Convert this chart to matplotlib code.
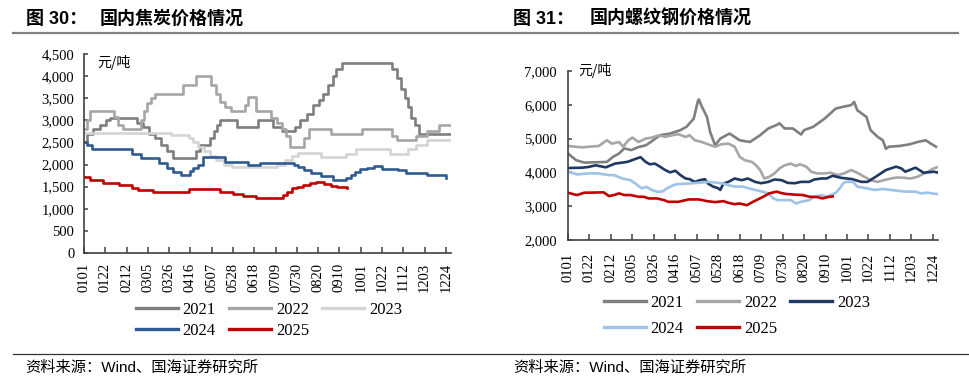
import matplotlib
matplotlib.use("Agg")
import matplotlib.pyplot as plt
from matplotlib.lines import Line2D

plt.rcParams['font.family'] = ['Liberation Serif', 'Noto Sans CJK SC']
plt.rcParams['axes.unicode_minus'] = False

# x axis: day of year (0 = 0101), labels every 21 days
tick_days = list(range(0, 358, 21))
tick_labels = ['0101', '0122', '0212', '0305', '0326', '0416', '0507', '0528', '0618',
               '0709', '0730', '0820', '0910', '1001', '1022', '1112', '1203', '1224']
years = ['2021', '2022', '2023', '2024', '2025']

# ---- coke price (step changes: day, price) ----
coke21_d = [0, 3, 9, 16, 22, 26, 52, 58, 64, 70, 76, 82, 88, 110, 114, 124, 128, 131, 134, 151,
            172, 186, 195, 208, 213, 220, 226, 232, 236, 241, 246, 249, 254, 304, 309, 313, 317, 320, 323, 326,
            330, 361]
coke21_v = [2500, 2700, 2800, 2900, 3000, 3050, 2950, 2850, 2700, 2600, 2450, 2300, 2150, 2300, 2450, 2600, 2750, 2900, 3000, 2850,
            3000, 2850, 2750, 2850, 3000, 3150, 3350, 3450, 3600, 3800, 4000, 4150, 4300, 4150, 3950, 3700, 3500, 3300, 3050, 2900,
            2700, 2700]
coke22_d = [0, 3, 6, 30, 34, 38, 56, 59, 62, 66, 70, 98, 110, 125, 130, 134, 139, 145, 159, 162,
            170, 184, 190, 195, 199, 203, 217, 222, 244, 274, 304, 309, 327, 338, 350, 361]
coke22_v = [2800, 3000, 3200, 3080, 2900, 2800, 3000, 3200, 3400, 3500, 3600, 3800, 4000, 3800, 3600, 3420, 3300, 3200, 3350, 3530,
            3200, 3050, 2950, 2800, 2650, 2400, 2600, 2800, 2700, 2800, 2650, 2550, 2650, 2750, 2900, 2900]
coke23_d = [0, 86, 104, 108, 112, 118, 124, 130, 138, 146, 190, 198, 205, 211, 234, 258, 268, 302, 320, 327, 338, 361]
coke23_v = [2720, 2670, 2600, 2500, 2400, 2300, 2200, 2100, 2000, 1950, 2000, 2100, 2200, 2260, 2170, 2250, 2350, 2250, 2350, 2450, 2550, 2550]
coke24_d = [0, 3, 8, 47, 56, 74, 82, 88, 96, 105, 108, 112, 117, 139, 162, 174, 207, 211, 217, 224,
            234, 246, 258, 263, 267, 272, 279, 286, 294, 310, 318, 338, 357]
coke24_v = [2520, 2440, 2360, 2250, 2140, 2030, 1920, 1840, 1760, 1850, 1920, 1990, 2160, 2060, 1990, 2030, 1990, 1940, 1880, 1800,
            1730, 1650, 1690, 1760, 1840, 1910, 1930, 1970, 1910, 1870, 1820, 1760, 1700]
coke25_d = [0, 6, 19, 35, 47, 53, 68, 104, 134, 147, 157, 170, 196, 200, 205, 210, 216, 223, 229, 237, 244, 250, 259]
coke25_v = [1720, 1650, 1590, 1540, 1480, 1420, 1390, 1440, 1390, 1330, 1290, 1240, 1310, 1390, 1460, 1500, 1540, 1590, 1610, 1570, 1520, 1490, 1480]

# ---- rebar price ----
reb21_d = [0, 8, 16, 38, 44, 50, 55, 62, 69, 76, 81, 90, 100, 110, 116, 123, 127, 128, 131, 136,
           139, 144, 149, 158, 168, 178, 188, 196, 204, 207, 212, 220, 228, 231, 240, 251, 262, 269, 277, 280,
           283, 292, 296, 303, 308, 311, 314, 324, 334, 342, 350, 355, 360]
reb21_v = [4560, 4360, 4290, 4310, 4460, 4560, 4710, 4660, 4750, 4800, 4900, 5100, 5150, 5250, 5350, 5590, 6100, 6160, 5940, 5640,
           5200, 4800, 5000, 5150, 4950, 4900, 5100, 5300, 5400, 5450, 5300, 5300, 5120, 5250, 5350, 5590, 5890, 5940, 5990, 6085,
           5840, 5640, 5250, 5050, 4950, 4700, 4760, 4780, 4830, 4900, 4950, 4850, 4760]
reb22_d = [0, 7, 14, 20, 30, 38, 43, 50, 54, 59, 63, 69, 76, 82, 89, 95, 102, 108, 115, 119,
           124, 131, 137, 144, 150, 157, 163, 168, 173, 180, 184, 188, 192, 197, 202, 207, 212, 218, 223, 227,
           233, 238, 244, 251, 257, 264, 270, 277, 283, 290, 296, 303, 309, 316, 322, 329, 335, 342, 345, 352,
           358, 361]
reb22_v = [4780, 4760, 4740, 4760, 4780, 4950, 4850, 4900, 4760, 4950, 5030, 4900, 5000, 5030, 5100, 5050, 5100, 5130, 5050, 5100,
           4950, 4900, 4830, 4760, 4830, 4850, 4760, 4460, 4360, 4310, 4210, 4070, 3820, 3870, 3970, 4120, 4210, 4260, 4190, 4240,
           4170, 4020, 3970, 3970, 3990, 3920, 3970, 4070, 3990, 3870, 3770, 3720, 3770, 3820, 3850, 3840, 3820, 3870, 3920, 4020,
           4120, 4150]
reb23_d = [0, 14, 20, 27, 37, 46, 58, 67, 71, 76, 80, 85, 90, 95, 100, 105, 110, 115, 119, 124,
           129, 134, 137, 142, 147, 149, 152, 157, 163, 170, 176, 183, 189, 196, 202, 209, 215, 222, 228, 236,
           241, 248, 253, 259, 267, 278, 287, 293, 301, 306, 311, 321, 326, 330, 340, 348, 358, 361]
reb23_v = [4130, 4140, 4160, 4210, 4150, 4260, 4310, 4410, 4450, 4310, 4240, 4260, 4170, 4070, 4000, 4050, 3920, 3820, 3800, 3720,
           3770, 3800, 3670, 3580, 3530, 3480, 3670, 3720, 3820, 3770, 3820, 3720, 3680, 3720, 3790, 3770, 3690, 3680, 3720, 3720,
           3790, 3820, 3820, 3900, 3840, 3800, 3720, 3720, 3870, 3970, 4070, 4170, 4120, 4020, 4140, 3990, 4020, 4000]
reb24_d = [0, 9, 20, 29, 40, 45, 53, 61, 66, 72, 77, 82, 87, 92, 97, 103, 106, 118, 131, 137,
           144, 152, 157, 163, 171, 179, 189, 196, 201, 205, 214, 218, 223, 228, 236, 241, 248, 253, 261, 263,
           266, 269, 272, 279, 283, 292, 300, 308, 316, 324, 332, 340, 345, 352, 358, 361]
reb24_v = [4020, 3940, 3970, 3970, 3920, 3920, 3820, 3770, 3670, 3530, 3570, 3480, 3430, 3430, 3530, 3620, 3650, 3670, 3700, 3720,
           3700, 3670, 3620, 3580, 3580, 3510, 3440, 3380, 3230, 3180, 3180, 3180, 3080, 3130, 3180, 3280, 3330, 3280, 3380, 3430,
           3530, 3670, 3720, 3720, 3580, 3530, 3480, 3510, 3480, 3450, 3430, 3430, 3380, 3400, 3370, 3360]
reb25_d = [0, 6, 9, 16, 20, 35, 40, 45, 50, 55, 61, 69, 74, 79, 87, 94, 98, 108, 118, 128,
           136, 144, 152, 157, 163, 168, 175, 181, 191, 197, 204, 210, 214, 223, 230, 236, 244, 249, 254, 259]
reb25_v = [3400, 3350, 3330, 3400, 3400, 3410, 3300, 3330, 3380, 3330, 3330, 3280, 3280, 3230, 3230, 3180, 3130, 3130, 3200, 3200,
           3150, 3120, 3150, 3100, 3060, 3080, 3030, 3130, 3280, 3380, 3430, 3380, 3360, 3340, 3330, 3280, 3270, 3230, 3270, 3290]

coke_series = [(coke21_d, coke21_v), (coke22_d, coke22_v), (coke23_d, coke23_v),
               (coke24_d, coke24_v), (coke25_d, coke25_v)]
reb_series = [(reb21_d, reb21_v), (reb22_d, reb22_v), (reb23_d, reb23_v),
              (reb24_d, reb24_v), (reb25_d, reb25_v)]
coke_colors = ['#7f7f7f', '#a6a6a6', '#d4d4d4', '#2f5b91', '#c00000']
reb_colors = ['#7f7f7f', '#a6a6a6', '#1f3864', '#9dc3e6', '#c00000']

W, H = 970, 388
fig = plt.figure(figsize=(W / 100, H / 100), dpi=100)


def fx(px):
    return px / W


def fy(py):
    return 1 - py / H


def style_axes(ax, ylim, yticks, xpad, ypad):
    ax.set_xlim(0, 362)
    ax.set_ylim(*ylim)
    ax.set_yticks(yticks)
    ax.set_yticklabels([f'{v:,}' for v in yticks])
    ax.set_xticks(tick_days)
    ax.set_xticklabels(tick_labels, rotation=90)
    for s in ['top', 'right']:
        ax.spines[s].set_visible(False)
    for s in ['left', 'bottom']:
        ax.spines[s].set_color('#404040')
        ax.spines[s].set_linewidth(1.2)
    ax.tick_params(axis='x', direction='in', length=4.5, width=1.1, color='#404040',
                   labelsize=10.5, pad=xpad)
    ax.tick_params(axis='y', direction='in', length=3, width=1.1, color='#404040',
                   labelsize=10.5, pad=ypad)
    ax.patch.set_alpha(0)


# left: coke
ax1 = fig.add_axes([fx(84), fy(253), fx(451 - 84), fy(54) - fy(253)])
handles1 = []
for (d, v), c, yr in zip(coke_series, coke_colors, years):
    h, = ax1.plot(d, v, color=c, lw=1.9, drawstyle='steps-post', label=yr)
    handles1.append(h)
style_axes(ax1, (0, 4500), list(range(0, 4501, 500)), 7, 7)
ax1.text(fx(97), fy(63), '元/吨', transform=fig.transFigure, fontsize=10,
         family=['Noto Sans CJK SC'], va='center', ha='left')

# right: rebar
ax2 = fig.add_axes([fx(568), fy(240), fx(938 - 568), fy(71) - fy(240)])
handles2 = []
for (d, v), c, yr in zip(reb_series, reb_colors, years):
    h, = ax2.plot(d, v, color=c, lw=1.9, label=yr)
    handles2.append(h)
style_axes(ax2, (2000, 7000), list(range(2000, 7001, 1000)), 9, 8)
ax2.text(fx(578), fy(70), '元/吨', transform=fig.transFigure, fontsize=10,
         family=['Noto Sans CJK SC'], va='center', ha='left')

# legends: row-wise order 2021 2022 2023 / 2024 2025
order = [0, 3, 1, 4, 2]
fig.legend([handles1[i] for i in order], [years[i] for i in order], ncol=3,
           loc='upper center', bbox_to_anchor=(fx(269), fy(302)), frameon=False,
           fontsize=12, handlelength=2.5, handletextpad=0.3, columnspacing=0.8,
           labelspacing=0.3, borderpad=0, borderaxespad=0)
fig.legend([handles2[i] for i in order], [years[i] for i in order], ncol=3,
           loc='upper center', bbox_to_anchor=(fx(737), fy(295)), frameon=False,
           fontsize=12, handlelength=2.5, handletextpad=0.3, columnspacing=0.8,
           labelspacing=0.6, borderpad=0, borderaxespad=0)
for lg in fig.legends:
    for ln in lg.get_lines():
        ln.set_linewidth(2.4)

# titles, rules and source lines
tfont = ['Liberation Sans', 'Noto Sans CJK SC']
fig.text(fx(26), fy(19), '图 30：', fontsize=13, weight='bold', family=tfont, va='center')
fig.text(fx(100), fy(19), '国内焦炭价格情况', fontsize=13, weight='bold', family=tfont, va='center')
fig.text(fx(513), fy(19), '图 31：', fontsize=13, weight='bold', family=tfont, va='center')
fig.text(fx(590), fy(19), '国内螺纹钢价格情况', fontsize=13, weight='bold', family=tfont, va='center')
fig.add_artist(Line2D([fx(13), fx(958)], [fy(32.7), fy(32.7)], color='#808080', lw=1.6))
fig.add_artist(Line2D([fx(13), fx(968)], [fy(354), fy(354)], color='#333333', lw=0.9))
fig.text(fx(25), fy(368), '资料来源：Wind、国海证券研究所', fontsize=11, family=tfont, va='center')
fig.text(fx(513), fy(368), '资料来源：Wind、国海证券研究所', fontsize=11, family=tfont, va='center')

fig.savefig('out.png', dpi=100)
